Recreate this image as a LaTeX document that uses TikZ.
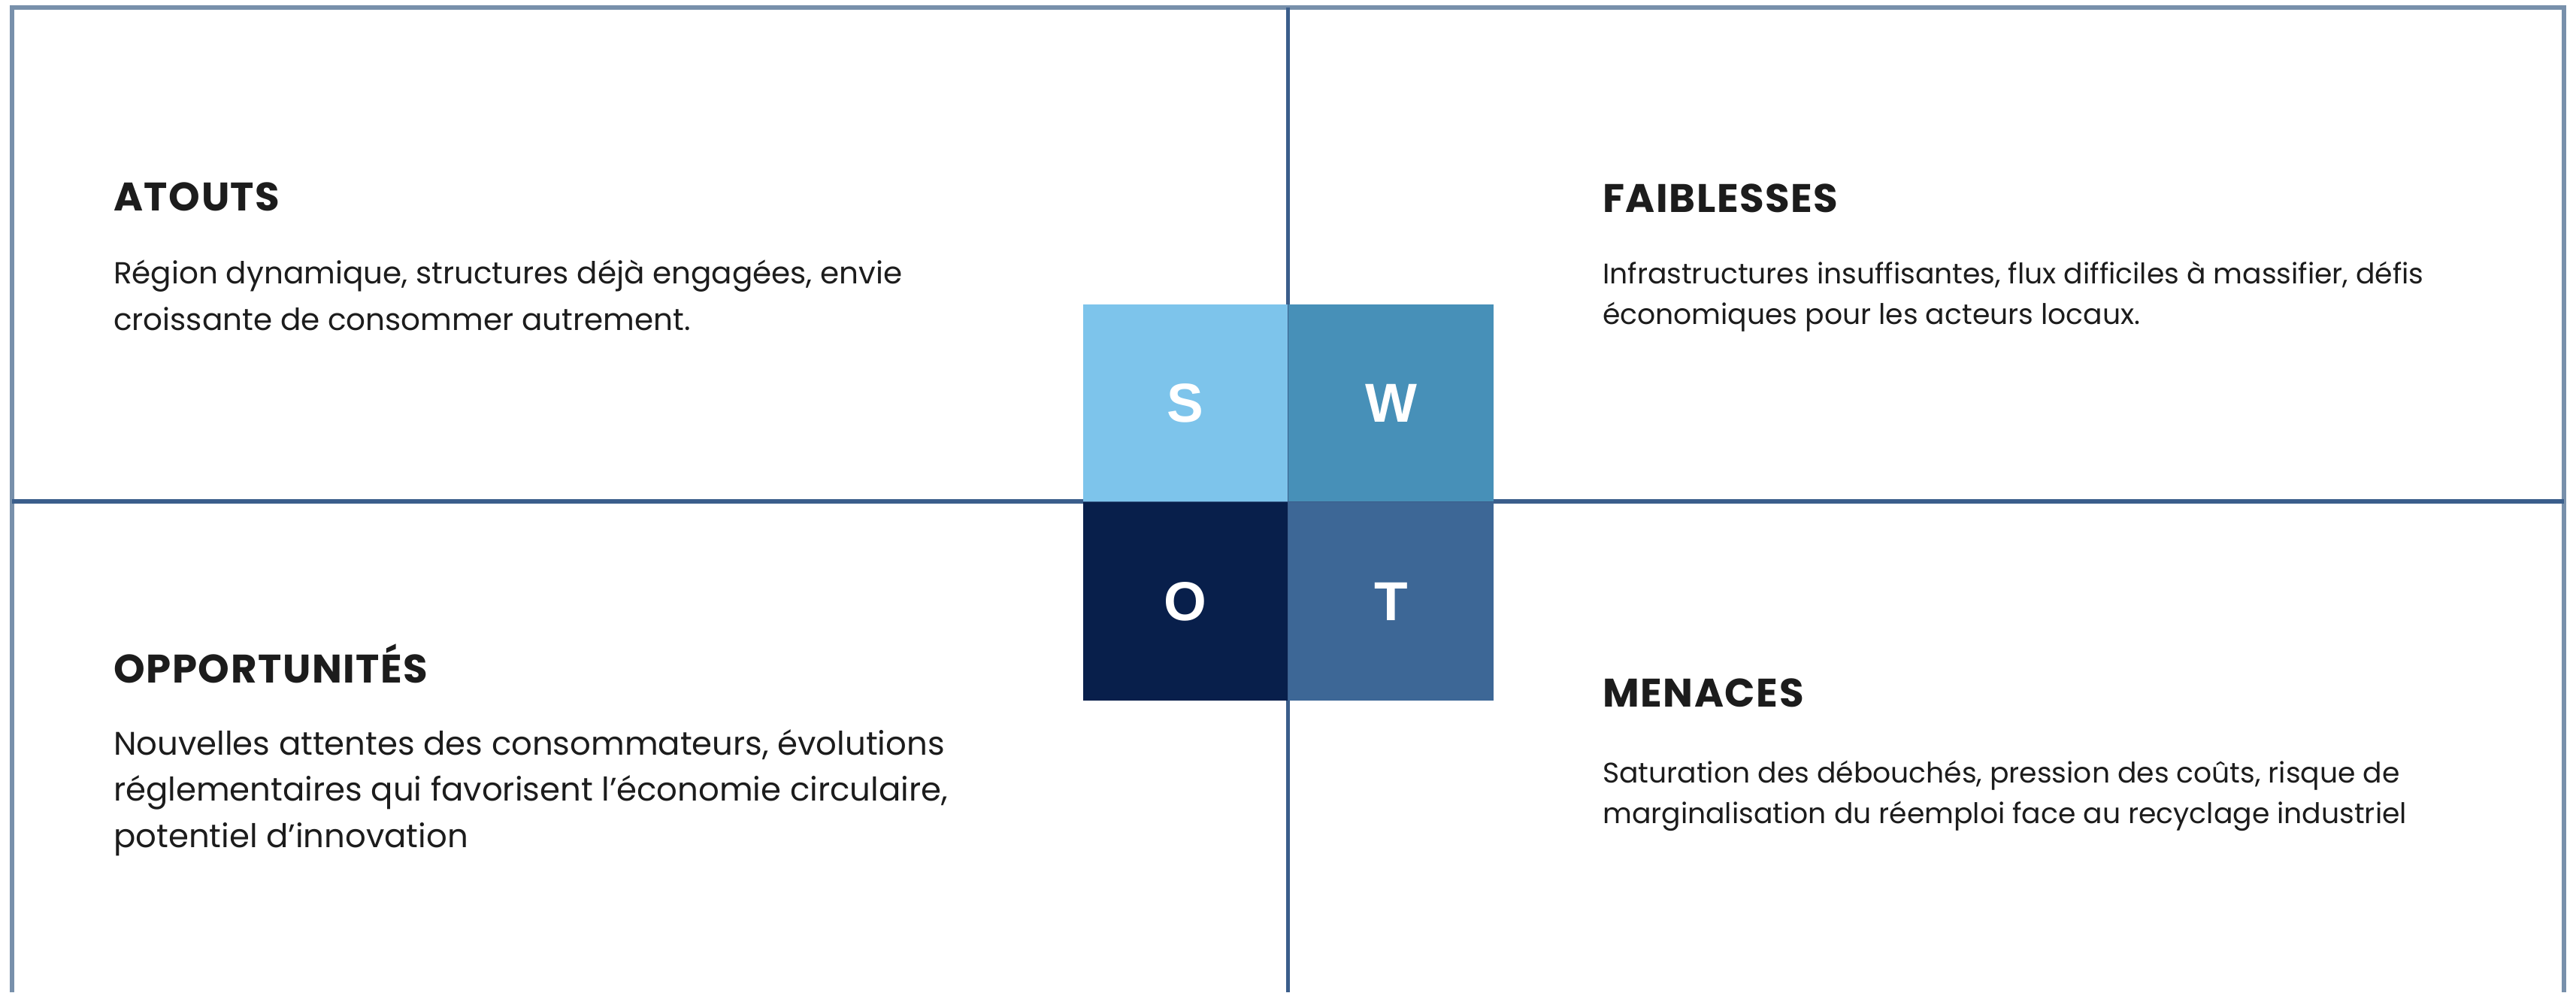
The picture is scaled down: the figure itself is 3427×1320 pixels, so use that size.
\documentclass[tikz,border=0pt]{standalone}
\usepackage{fontspec}
\setmainfont{Poppins}
\newfontfamily\headfont{Poppins}[LetterSpace=3]
\newfontfamily\letterfont{Liberation Sans}
\definecolor{frameblue}{HTML}{7890AB}
\definecolor{lineblue}{HTML}{3B5E8B}
\definecolor{sblue}{HTML}{7DC4EB}
\definecolor{wblue}{HTML}{4790B8}
\definecolor{oblue}{HTML}{081F4B}
\definecolor{tblue}{HTML}{3D6796}
\definecolor{ink}{HTML}{1C1C1C}
\begin{document}
\begin{tikzpicture}[x=1pt,y=-1pt,
  heading/.style={anchor=base west,inner sep=0pt,text=ink,font=\headfont\bfseries\fontsize{53}{60}\selectfont},
  bodybase/.style={anchor=base west,inner sep=0pt,text=ink,align=left},
  bodyTL/.style={bodybase,font=\fontsize{40.5}{62}\selectfont},
  bodyBL/.style={bodybase,font=\fontsize{43.4}{61.5}\selectfont},
  bodyR/.style={bodybase,font=\fontsize{37.7}{54}\selectfont},
  letterbox/.style={inner sep=0pt,text=white,font=\letterfont\bfseries\fontsize{73}{73}\selectfont}]
\useasboundingbox (0,0) rectangle (3427,1320);
\fill[white] (0,0) rectangle (3427,1320);
% outer frame, open at the bottom
\draw[frameblue,line width=6.5pt] (16,1320) -- (16,10) -- (3411,10) -- (3411,1320);
% dividers
\draw[lineblue,line width=5pt] (1713.5,10) -- (1713.5,1320);
\draw[lineblue,line width=6pt] (16,667) -- (3411,667);
% SWOT squares
\fill[sblue] (1441,405) rectangle (1713,667);
\fill[wblue] (1714,405) rectangle (1987,667);
\fill[oblue] (1441,668) rectangle (1713,932);
\fill[tblue] (1714,668) rectangle (1987,932);
\node[letterbox] (S) at (1577,536) {S};
\node[letterbox] (W) at (1850.5,536) {W};
\node[letterbox] (O) at (1577,800) {O};
\node[letterbox] (T) at (1850.5,800) {T};
% headings
\node[heading] (hA) at (151,280) {ATOUTS};
\node[heading] (hF) at (2132,282) {FAIBLESSES};
\node[heading] (hO) at (151,908) {OPPORTUNITÉS};
\node[heading] (hM) at (2132,940) {MENACES};
% bodies (anchor = baseline of the last line)
\node[bodyTL] (bA) at (151,439) {Région dynamique, structures déjà engagées, envie\\croissante de consommer autrement.};
\node[bodyR] (bF) at (2132,431) {Infrastructures insuffisantes, flux difficiles à massifier, défis\\économiques pour les acteurs locaux.};
\node[bodyBL] (bO) at (151,1127) {Nouvelles attentes des consommateurs, évolutions\\réglementaires qui favorisent l’économie circulaire,\\potentiel d’innovation};
\node[bodyR] (bM) at (2132,1095) {Saturation des débouchés, pression des coûts, risque de\\marginalisation du réemploi face au recyclage industriel};
\end{tikzpicture}
\end{document}
